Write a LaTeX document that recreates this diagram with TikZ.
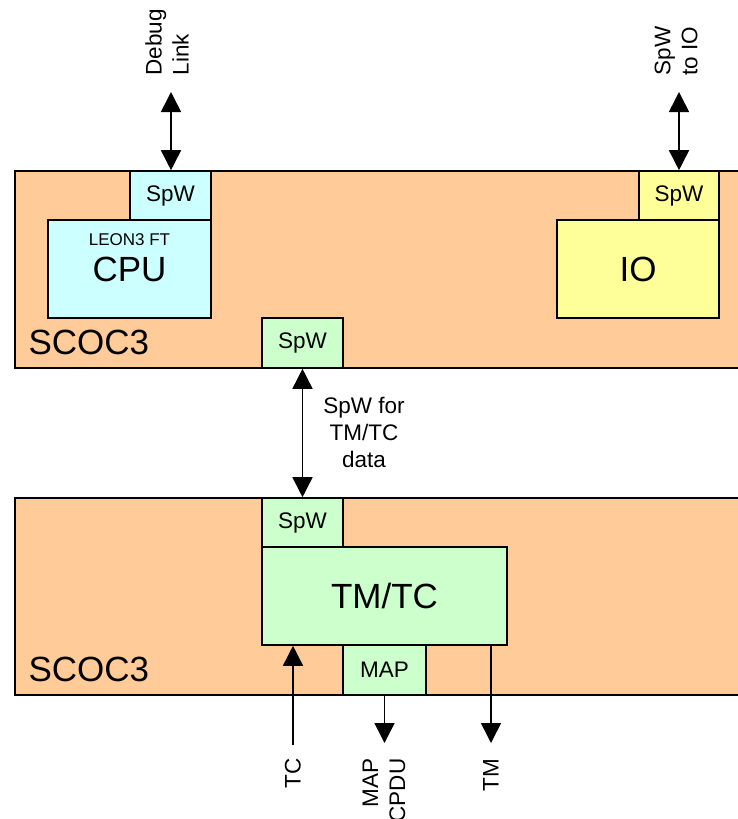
\documentclass[tikz,border=0pt]{standalone}
\usepackage{fontspec}
\setmainfont{Liberation Sans}
\usetikzlibrary{arrows.meta}
\definecolor{peach}{HTML}{FFCC99}
\definecolor{cyanb}{HTML}{CCFFFF}
\definecolor{yelb}{HTML}{FFFF99}
\definecolor{greenb}{HTML}{CCFFCC}
\tikzset{
  blk/.style={draw, line width=1.6pt, inner sep=0pt, anchor=center},
  chip/.style={font=\fontsize{35}{40}\selectfont},
  small/.style={font=\fontsize{22.5}{27}\selectfont},
  conn/.style={line width=1.6pt, -{Triangle[width=20pt,length=20pt]}},
  bconn/.style={line width=1.6pt, {Triangle[width=20pt,length=20pt]}-{Triangle[width=20pt,length=20pt]}},
}
\begin{document}
\begin{tikzpicture}[x=1pt,y=-1pt]
\useasboundingbox (0,0) rectangle (738,819);
% top SCOC3
\node[blk, fill=peach, minimum width=740pt, minimum height=197pt] (scoctop) at (385,269.5) {};
\node[chip, anchor=west] (scoctoplbl) at (25,342) {SCOC3};
\node[blk, fill=cyanb, minimum width=81pt, minimum height=49pt, small] (cpuspw) at (170.5,195.5) {SpW};
\node[blk, fill=cyanb, minimum width=163pt, minimum height=98pt, chip] (cpu) at (129.5,269) {CPU};
\node[font=\fontsize{17}{20}\selectfont] (leon) at (129.5,240) {LEON3 FT};
\node[blk, fill=yelb, minimum width=80pt, minimum height=49pt, small] (iospw) at (679,195.5) {SpW};
\node[blk, fill=yelb, minimum width=162pt, minimum height=98pt, chip] (io) at (638,269) {IO};
\node[blk, fill=greenb, minimum width=81pt, minimum height=50pt, small] (midspw) at (302.5,343) {SpW};
% bottom SCOC3
\node[blk, fill=peach, minimum width=740pt, minimum height=197pt] (scocbot) at (385,596.5) {};
\node[chip, anchor=west] (scocbotlbl) at (25,669) {SCOC3};
\node[blk, fill=greenb, minimum width=81pt, minimum height=49pt, small] (botspw) at (302.5,522.5) {SpW};
\node[blk, fill=greenb, minimum width=245pt, minimum height=98pt, chip] (tmtc) at (384.5,596) {TM/TC};
\node[blk, fill=greenb, minimum width=83pt, minimum height=50pt, small] (map) at (384.5,670) {MAP};
% top connectors
\coordinate (dbg) at (171,92);
\coordinate (sio) at (679,92);
\draw[bconn] (dbg) -- (dbg |- cpuspw.north);
\draw[bconn] (sio) -- (iospw.north);
\node[small, rotate=90, anchor=west, align=left] (dbglbl) at (167,79) {Debug\\Link};
\node[small, rotate=90, anchor=west, align=left] (siolbl) at (676,79) {SpW\\to IO};
% middle
\draw[bconn] (midspw.south) -- (botspw.north);
\node[small, align=center] (midlbl) at (364,432) {SpW for\\TM/TC\\data};
% bottom connectors
\coordinate (tcend) at (293,745);
\coordinate (mapend) at (384.5,743);
\coordinate (tmend) at (491,743);
\draw[conn] (tcend) -- (tcend |- tmtc.south);
\draw[conn] (map.south) -- (mapend);
\draw[conn] (tmend |- tmtc.south) -- (tmend);
\node[small, rotate=90, anchor=east] (tclbl) at (293,755) {TC};
\node[small, rotate=90, anchor=east, align=right] (maplbl) at (384,755) {MAP\\CPDU};
\node[small, rotate=90, anchor=east] (tmlbl) at (491,755) {TM};
\end{tikzpicture}
\end{document}
